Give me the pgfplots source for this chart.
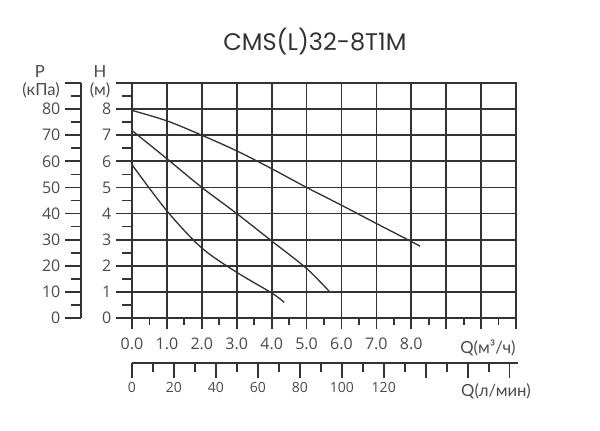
\documentclass[border=0pt]{standalone}
\usepackage{fontspec}
\setmainfont{Open Sans}
\newfontfamily\titlefont{Poppins}
\newfontfamily\labfont{Lato}
\usepackage{pgfplots}
\pgfplotsset{compat=1.18}
\definecolor{ln}{HTML}{333333}
\definecolor{tk}{HTML}{4A4A4A}

\begin{document}
\begin{tikzpicture}[x=0.75pt,y=0.75pt]
\useasboundingbox (0,0) rectangle (600,431);
\pgfplotsset{
  every axis/.append style={
    scale only axis, anchor=south west,
    /pgf/number format/assume math mode=true,
    tick label style={font=\fontsize{12}{14}\selectfont, color=tk},
    axis line style={ln, line width=1.3pt},
    tick style={ln, line width=1.3pt},
    tick align=outside,
  },
}

% grid, curves and the m3/h ticks
\begin{axis}[
  at={(99pt,84.75pt)}, width=288pt, height=176.25pt,
  xmin=0, xmax=11, ymin=0, ymax=9,
  xtick={0,...,11}, ytick={0,...,9},
  xticklabels={0.0,1.0,2.0,3.0,4.0,5.0,6.0,7.0,8.0,{},{},{}},
  xticklabel style={yshift=-3pt},
  yticklabels={{},{},{},{},{},{},{},{},{},{}},
  minor xtick={0.5,1.5,...,10.5},
  x tick style={ln, line width=1.3pt},
  y tick style={draw=none},
  major tick length=8.5pt, minor tick length=5pt,
  xtick pos=bottom,
  xmajorgrids, ymajorgrids,
  grid style={ln, line width=1.3pt},
]
\addplot[ln, line width=1pt, smooth] coordinates {
  (0,7.95) (1,7.55) (2,7.0) (3,6.4) (4,5.72) (5,5.0) (6,4.32) (7,3.62) (8,2.93) (8.25,2.75)};
\addplot[ln, line width=1pt, smooth] coordinates {
  (0,7.18) (1,6.1) (2,5.0) (3,4.0) (4,2.95) (5,1.9) (5.65,1.02)};
\addplot[ln, line width=1pt, smooth] coordinates {
  (0,5.87) (1,4.1) (2,2.68) (3,1.75) (4,0.96) (4.36,0.6)};
\end{axis}

% head axis, m
\begin{axis}[
  at={(99pt,84.75pt)}, width=288pt, height=176.25pt,
  xmin=0, xmax=11, ymin=0, ymax=9,
  axis y line*=left, hide x axis,
  ytick={0,...,9},
  yticklabels={0,1,2,3,4,5,6,7,8,{}},
  minor ytick={0.5,1.5,...,8.5},
  major tick length=12pt, minor tick length=7.5pt,
]
\end{axis}

% pressure axis, kPa
\begin{axis}[
  at={(60.75pt,84.75pt)}, width=1pt, height=176.25pt,
  xmin=0, xmax=1, ymin=0, ymax=90,
  axis y line*=left, hide x axis,
  ytick={0,10,...,90},
  yticklabels={0,10,20,30,40,50,60,70,80,{}},
  minor ytick={5,15,...,85},
  major tick length=12pt, minor tick length=7.5pt,
]
\end{axis}

% flow axis, l/min
\begin{axis}[
  at={(99pt,51pt)}, width=289.5pt, height=1pt,
  xmin=0, xmax=184, ymin=0, ymax=1,
  axis x line*=bottom, hide y axis,
  xtick={0,20,...,180},
  xticklabels={0,20,40,60,80,100,120,{},{},{}},
  minor xtick={10,30,...,170},
  major tick length=11pt, minor tick length=7pt,
  tick label style={font=\fontsize{10.5}{12}\selectfont, color=tk},
]
\end{axis}

\node[font=\titlefont\fontsize{18}{20}\selectfont, color=ln] at (315,389) {CMS(L)32-8T1M};
\node[font=\labfont\fontsize{12.5}{14}\selectfont, color=tk] at (40,359) {P};
\node[font=\labfont\fontsize{12.5}{14}\selectfont, color=tk] at (41,341) {(кПа)};
\node[font=\labfont\fontsize{12.5}{14}\selectfont, color=tk] at (100,359) {H};
\node[font=\labfont\fontsize{12.5}{14}\selectfont, color=tk] at (100,341) {(м)};
\node[font=\labfont\fontsize{12.5}{14}\selectfont, color=tk] at (488,83) {Q(м³/ч)};
\node[font=\labfont\fontsize{12.5}{14}\selectfont, color=tk] at (496,40) {Q(л/мин)};
\end{tikzpicture}
\end{document}
